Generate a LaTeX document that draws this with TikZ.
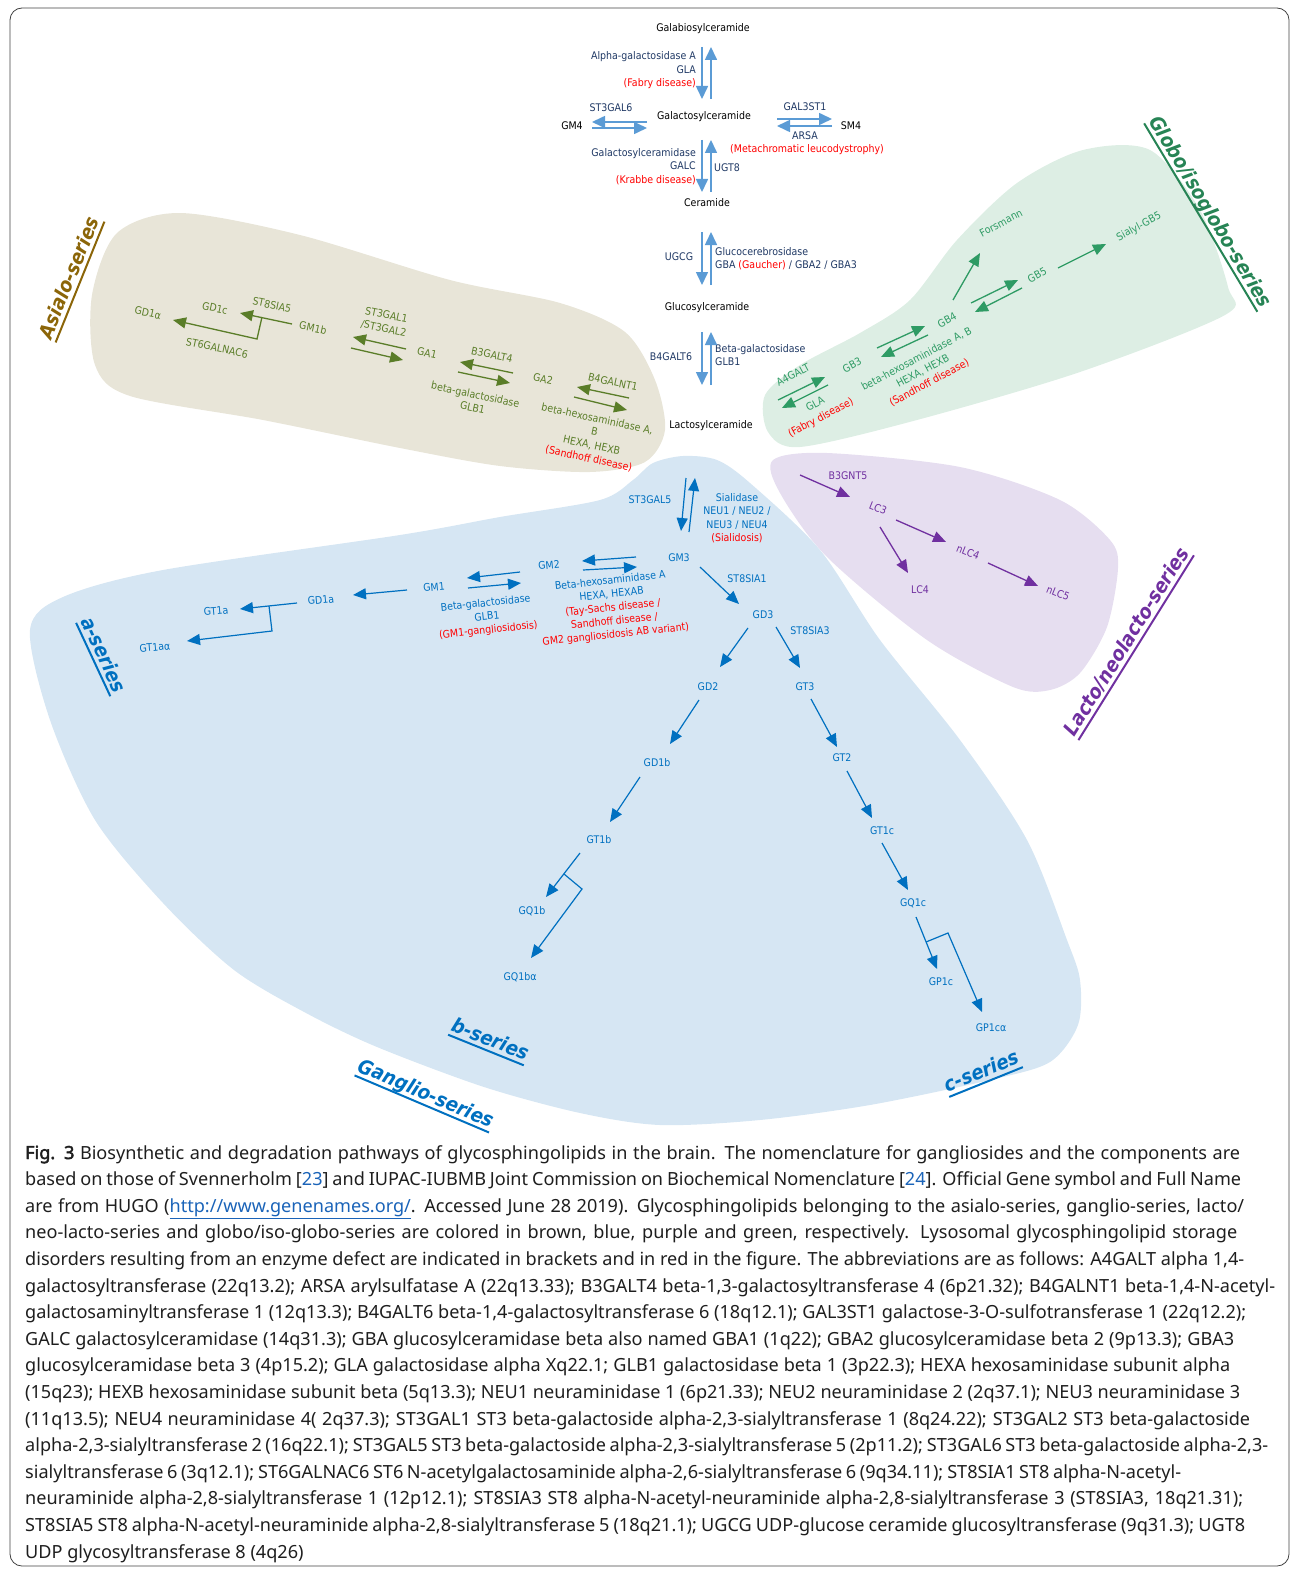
\documentclass[tikz,border=0pt]{standalone}
\usepackage{fontspec}
\setmainfont{DejaVu Sans}[FakeStretch=0.9]
\newfontfamily\capfont{Noto Sans}[BoldFont={Noto Sans}, BoldFeatures={FakeBold=2.5}]
\usetikzlibrary{arrows.meta}
\definecolor{navy}{HTML}{1F3864}
\definecolor{lblue}{HTML}{5B9BD5}
\definecolor{dred}{HTML}{FF0000}
\definecolor{asg}{HTML}{5A7D28}
\definecolor{asbg}{HTML}{E8E5D8}
\definecolor{aslab}{HTML}{8B6508}
\definecolor{glg}{HTML}{2E9B64}
\definecolor{glbg}{HTML}{DDEEE4}
\definecolor{lpur}{HTML}{7030A0}
\definecolor{lcbg}{HTML}{E6DEF0}
\definecolor{gbl}{HTML}{0070C0}
\definecolor{gbg}{HTML}{D6E6F3}
\definecolor{linkb}{HTML}{1A63B8}
\definecolor{captxt}{HTML}{1E1E1E}
\newcommand\capline[2]{\hbox to #1pt{#2}}
\begin{document}
\begin{tikzpicture}[x=1pt,y=-1pt,
  lb/.style={font=\fontsize{10.5}{13.5}\selectfont, inner sep=0pt, align=center},
  tarr/.style={lblue, line width=1.6pt, -{Triangle[length=13pt,width=12pt]}},
  aarr/.style={asg, line width=1.3pt, -{Triangle[length=13pt,width=11pt]}},
  garr/.style={glg, line width=1.3pt, -{Triangle[length=13pt,width=11pt]}},
  parr/.style={lpur, line width=1.3pt, -{Triangle[length=13pt,width=11pt]}},
  barr/.style={gbl, line width=1.2pt, -{Triangle[length=13pt,width=11pt]}},
  series/.style={font=\fontsize{20}{24}\selectfont\bfseries\itshape, inner xsep=0pt, inner ysep=1.5pt, text depth=3pt},
  uline/.style={line width=2pt},
  capl/.style={font=\capfont\fontsize{18.1}{22}\selectfont, text=captxt, anchor=base west, inner sep=0pt}
]
\useasboundingbox (0,0) rectangle (1295,1573);
\draw[line width=0.8pt, black!75, rounded corners=12pt] (10,8) rectangle (1289,1566);

% ---------- blobs ----------
\fill[asbg] plot[smooth cycle] coordinates {(180,213) (300,235) (450,280) (560,303) (625,332) (655,380) (665,430) (645,462) (590,472) (500,466) (400,448) (263,420) (130,396) (95,365) (92,295) (117,233)};
\fill[glbg] plot[smooth cycle] coordinates {(765,395) (800,365) (860,333) (910,300) (957,240) (1017,183) (1083,150) (1150,150) (1200,210) (1228,287) (1225,315) (1080,372) (917,420) (800,447) (768,432)};
\fill[lcbg] plot[smooth cycle] coordinates {(773,460) (827,453) (960,467) (1060,500) (1110,540) (1118,568) (1107,627) (1080,673) (1050,690) (1013,687) (927,640) (827,557) (780,493)};
\fill[gbg] plot[smooth cycle, tension=0.5] coordinates {(30,630) (50,720) (95,820) (163,903) (234,970) (306,1013) (377,1047) (484,1087) (580,1113) (660,1125) (760,1120) (870,1105) (990,1080) (1050,1062) (1078,1025) (1080,980) (1067,940) (1027,840) (960,740) (880,640) (820,550) (750,483) (717,460) (683,456) (653,463) (633,480) (600,500) (500,517) (400,535) (163,570) (63,597)};

% ---------- top pathway ----------
\node[lb] (galab) at (703,29) {Galabiosylceramide};
\node[lb,navy,align=right,anchor=east] (agal) at (696,70.5) {Alpha-galactosidase A\\GLA\\{\color{dred}(Fabry disease)}};
\node[lb] (galcer) at (704,117) {Galactosylceramide};
\node[lb] (gm4) at (572,126) {GM4};
\node[lb,navy] (st3gal6) at (611,108) {ST3GAL6};
\node[lb,navy] (gal3st1) at (805,107) {GAL3ST1};
\node[lb] (sm4) at (851,126) {SM4};
\node[lb,navy] (arsa) at (805,136) {ARSA};
\node[lb,dred] (mld) at (807,150) {(Metachromatic leucodystrophy)};
\node[lb,navy,align=right,anchor=east] (galc) at (696,166.5) {Galactosylceramidase\\GALC\\{\color{dred}(Krabbe disease)}};
\node[lb,navy] (ugt8) at (727,168) {UGT8};
\node[lb] (cer) at (707,203) {Ceramide};
\node[lb,navy] (ugcg) at (679,257) {UGCG};
\node[lb,navy,align=left,anchor=west] (gba) at (715,258.5) {Glucocerebrosidase\\GBA {\color{dred}(Gaucher)} / GBA2 / GBA3};
\node[lb] (glccer) at (707,308) {Glucosylceramide};
\node[lb,navy] (b4galt6) at (671,357) {B4GALT6};
\node[lb,navy,align=left,anchor=west] (glb1) at (715,355) {Beta-galactosidase\\GLB1};
\node[lb] (laccer) at (711,426) {Lactosylceramide};

\coordinate (t1a) at (702,47);  \coordinate (t1b) at (702,99);
\coordinate (t2a) at (711,99);  \coordinate (t2b) at (711,47);
\coordinate (t3a) at (647,122); \coordinate (t3b) at (592,122);
\coordinate (t4a) at (592,128); \coordinate (t4b) at (647,128);
\coordinate (t5a) at (777,119); \coordinate (t5b) at (832,119);
\coordinate (t6a) at (832,126); \coordinate (t6b) at (777,126);
\coordinate (t7a) at (702,140); \coordinate (t7b) at (702,192);
\coordinate (t8a) at (711,192); \coordinate (t8b) at (711,140);
\coordinate (t9a) at (702,232); \coordinate (t9b) at (702,285);
\coordinate (t10a) at (711,285); \coordinate (t10b) at (711,232);
\coordinate (t11a) at (702,332); \coordinate (t11b) at (702,385);
\coordinate (t12a) at (711,385); \coordinate (t12b) at (711,332);
\foreach \i in {1,...,12} {\draw[tarr] (t\i a) -- (t\i b);}

% ---------- asialo ----------
\begin{scope}[every node/.style={lb, asg, rotate=-12}]
\node (gd1al) at (148,313) {GD1α};
\node (gd1c) at (215,308) {GD1c};
\node (st8sia5) at (272,305) {ST8SIA5};
\node (gm1b) at (313,328) {GM1b};
\node (st6galnac6) at (217,348) {ST6GALNAC6};
\node (st3gal1) at (385,322) {ST3GAL1\\/ST3GAL2};
\node (ga1) at (427,353) {GA1};
\node (b3galt4) at (492,355) {B3GALT4};
\node (bgal) at (474,401) {beta-galactosidase\\GLB1};
\node (ga2) at (543,379) {GA2};
\node (b4galnt1) at (613,382) {B4GALNT1};
\node (bhex) at (593,439) {beta-hexosaminidase A,\\B\\HEXA, HEXB\\{\color{dred}(Sandhoff disease)}};
\end{scope}
\coordinate (a1a) at (292,324); \coordinate (a1b) at (240,313);
\coordinate (a2a) at (262,317); \coordinate (a2m) at (257,339); \coordinate (a2b) at (173,320);
\coordinate (a3a) at (406,349); \coordinate (a3b) at (353,337);
\coordinate (a4a) at (351,348); \coordinate (a4b) at (403,360);
\coordinate (a5a) at (513,373); \coordinate (a5b) at (460,362);
\coordinate (a6a) at (458,372); \coordinate (a6b) at (510,383);
\coordinate (a7a) at (629,398); \coordinate (a7b) at (577,387);
\coordinate (a8a) at (574,397); \coordinate (a8b) at (627,410);
\draw[aarr] (a1a) -- (a1b);
\draw[aarr] (a2a) -- (a2m) -- (a2b);
\foreach \i in {3,...,8} {\draw[aarr] (a\i a) -- (a\i b);}

% ---------- globo ----------
\begin{scope}[every node/.style={lb, glg, rotate=28}]
\node (a4galt) at (793,375) {A4GALT};
\node (gla) at (815,404) {GLA};
\node (fabry2) at (821,418) {\color{dred}(Fabry disease)};
\node (gb3) at (852,365) {GB3};
\node (bhex2) at (923,371) {beta-hexosaminidase A, B\\HEXA, HEXB\\{\color{dred}(Sandhoff disease)}};
\node (gb4) at (947,320) {GB4};
\node (forsmann) at (1001,223) {Forsmann};
\node (gb5) at (1037,275) {GB5};
\node (sialyl) at (1139,227) {Sialyl-GB5};
\end{scope}
\coordinate (g1a) at (778,400); \coordinate (g1b) at (825,377);
\coordinate (g2a) at (828,385); \coordinate (g2b) at (782,408);
\coordinate (g3a) at (877,348); \coordinate (g3b) at (925,326);
\coordinate (g4a) at (928,335); \coordinate (g4b) at (881,357);
\coordinate (g5a) at (953,300); \coordinate (g5b) at (980,253);
\coordinate (g6a) at (971,303); \coordinate (g6b) at (1018,280);
\coordinate (g7a) at (1022,288); \coordinate (g7b) at (975,312);
\coordinate (g8a) at (1058,268); \coordinate (g8b) at (1106,244);
\foreach \i in {1,...,8} {\draw[garr] (g\i a) -- (g\i b);}

% ---------- lacto ----------
\node[lb,lpur] (b3gnt5) at (848,476) {B3GNT5};
\node[lb,lpur,rotate=-22] (lc3) at (878,508) {LC3};
\node[lb,lpur] (lc4) at (920,590) {LC4};
\node[lb,lpur,rotate=-22] (nlc4) at (968,552) {nLC4};
\node[lb,lpur,rotate=-22] (nlc5) at (1058,593) {nLC5};
\coordinate (l1a) at (800,475); \coordinate (l1b) at (850,497);
\coordinate (l2a) at (896,520); \coordinate (l2b) at (946,542);
\coordinate (l3a) at (880,527); \coordinate (l3b) at (908,573);
\coordinate (l4a) at (988,563); \coordinate (l4b) at (1038,586);
\foreach \i in {1,...,4} {\draw[parr] (l\i a) -- (l\i b);}

% ---------- ganglio ----------
\begin{scope}[every node/.style={lb, gbl}]
\node (st3gal5) at (650,500) {ST3GAL5};
\node (sial) at (737,518) {Sialidase\\NEU1 / NEU2 /\\NEU3 / NEU4\\{\color{dred}(Sialidosis)}};
\node (gm3) at (679,558) {GM3};
\node[rotate=5] (gm2) at (549,565) {GM2};
\node[rotate=5] (gm1) at (434,587) {GM1};
\node[rotate=6] (bhexa) at (613,608) {Beta-hexosaminidase A\\HEXA, HEXAB\\{\color{dred}(Tay-Sachs disease /}\\{\color{dred}Sandhoff disease /}\\{\color{dred}GM2 gangliosidosis AB variant)}};
\node[rotate=6] (bgal2) at (487,617) {Beta-galactosidase\\GLB1\\{\color{dred}(GM1-gangliosidosis)}};
\node (st8sia1) at (747,579) {ST8SIA1};
\node (gd3) at (763,615) {GD3};
\node (st8sia3) at (810,631) {ST8SIA3};
\node (gd2) at (708,687) {GD2};
\node (gt3) at (805,687) {GT3};
\node (gd1b) at (657,763) {GD1b};
\node (gt2) at (842,758) {GT2};
\node (gt1b) at (599,840) {GT1b};
\node (gt1c) at (882,831) {GT1c};
\node (gq1b) at (532,911) {GQ1b};
\node (gq1c) at (913,903) {GQ1c};
\node (gq1ba) at (520,977) {GQ1bα};
\node (gp1c) at (941,982) {GP1c};
\node (gp1ca) at (991,1028) {GP1cα};
\node[rotate=5] (gd1a) at (321,600) {GD1a};
\node[rotate=5] (gt1a) at (216,611) {GT1a};
\node[rotate=5] (gt1aa) at (155,647) {GT1aα};
\end{scope}
\coordinate (b1a) at (686,478); \coordinate (b1b) at (681,531);
\coordinate (b2a) at (689,532); \coordinate (b2b) at (695,478);
\coordinate (b3a) at (636,557); \coordinate (b3b) at (582,561);
\coordinate (b4a) at (583,570); \coordinate (b4b) at (637,567);
\coordinate (b5a) at (520,572); \coordinate (b5b) at (467,578);
\coordinate (b6a) at (468,588); \coordinate (b6b) at (521,583);
\coordinate (b7a) at (407,590); \coordinate (b7b) at (353,595);
\coordinate (b8a) at (297,603); \coordinate (b8b) at (240,609);
\coordinate (b9a) at (700,567); \coordinate (b9b) at (739,604);
\coordinate (b10a) at (748,628); \coordinate (b10b) at (720,667);
\coordinate (b11a) at (776,627); \coordinate (b11b) at (800,668);
\coordinate (b12a) at (699,700); \coordinate (b12b) at (670,744);
\coordinate (b13a) at (640,777); \coordinate (b13b) at (610,822);
\coordinate (b14a) at (580,853); \coordinate (b14b) at (546,897);
\coordinate (b15a) at (811,699); \coordinate (b15b) at (837,747);
\coordinate (b16a) at (847,771); \coordinate (b16b) at (872,818);
\coordinate (b17a) at (882,843); \coordinate (b17b) at (908,890);
\coordinate (b18a) at (916,917); \coordinate (b18b) at (937,969);
\foreach \i in {1,...,18} {\draw[barr] (b\i a) -- (b\i b);}
\coordinate (br1a) at (269,606); \coordinate (br1m) at (272,631); \coordinate (br1b) at (187,641);
\coordinate (br2a) at (564,874); \coordinate (br2m) at (582,889); \coordinate (br2b) at (531,958);
\coordinate (br3a) at (926,942); \coordinate (br3m) at (948,933); \coordinate (br3b) at (982,1012);
\foreach \i in {1,2,3} {\draw[barr] (br\i a) -- (br\i m) -- (br\i b);}

% ---------- series labels ----------
\node[series, aslab, rotate=68] (asialo) at (70,278) {Asialo-series};
\draw[uline, aslab] (asialo.south west) -- (asialo.south east);
\node[series, glg!85!black, rotate=-59] (globo) at (1210,212) {Globo/isoglobo-series};
\draw[uline, glg!85!black] (globo.south west) -- (globo.south east);
\node[series, lpur, rotate=58] (lacto) at (1127,642) {Lacto/neolacto-series};
\draw[uline, lpur] (lacto.south west) -- (lacto.south east);
\node[series, gbl, rotate=-65] (aser) at (103,655) {a-series};
\draw[uline, gbl] (aser.south west) -- (aser.south east);
\node[series, gbl, rotate=-22] (bser) at (490,1040) {b-series};
\draw[uline, gbl] (bser.south west) -- (bser.south east);
\node[series, gbl, rotate=-23] (gser) at (426,1094) {Ganglio-series};
\draw[uline, gbl] (gser.south west) -- (gser.south east);
\node[series, gbl, rotate=22] (cser) at (982,1072) {c-series};
\draw[uline, gbl] (cser.south west) -- (cser.south east);

% ---------- caption ----------
\node[capl] (c1) at (25,1159) {\capline{1215}{\textbf{Fig. 3} Biosynthetic and degradation pathways of glycosphingolipids in the brain. The nomenclature for gangliosides and the components are}};
\node[capl] (c2) at (25,1185.6) {\capline{1216}{based on those of Svennerholm [{\color{linkb}23}] and IUPAC-IUBMB Joint Commission on Biochemical Nomenclature [{\color{linkb}24}]. Official Gene symbol and Full Name}};
\node[capl] (c3) at (25,1212.2) {\capline{1219}{are from HUGO ({\color{linkb}\underline{http://www.genenames.org/}}. Accessed June 28 2019). Glycosphingolipids belonging to the asialo-series, ganglio-series, lacto/}};
\node[capl] (c4) at (25,1238.8) {\capline{1212}{neo-lacto-series and globo/iso-globo-series are colored in brown, blue, purple and green, respectively. Lysosomal glycosphingolipid storage}};
\node[capl] (c5) at (25,1265.4) {\capline{1219}{disorders resulting from an enzyme defect are indicated in brackets and in red in the figure. The abbreviations are as follows: A4GALT alpha 1,4-}};
\node[capl] (c6) at (25,1292) {\capline{1250}{galactosyltransferase (22q13.2); ARSA arylsulfatase A (22q13.33); B3GALT4 beta-1,3-galactosyltransferase 4 (6p21.32); B4GALNT1 beta-1,4-N-acetyl-}};
\node[capl] (c7) at (25,1318.6) {\capline{1221}{galactosaminyltransferase 1 (12q13.3); B4GALT6 beta-1,4-galactosyltransferase 6 (18q12.1); GAL3ST1 galactose-3-O-sulfotransferase 1 (22q12.2);}};
\node[capl] (c8) at (25,1345.2) {\capline{1209}{GALC galactosylceramidase (14q31.3); GBA glucosylceramidase beta also named GBA1 (1q22); GBA2 glucosylceramidase beta 2 (9p13.3); GBA3}};
\node[capl] (c9) at (25,1371.8) {\capline{1205}{glucosylceramidase beta 3 (4p15.2); GLA galactosidase alpha Xq22.1; GLB1 galactosidase beta 1 (3p22.3); HEXA hexosaminidase subunit alpha}};
\node[capl] (c10) at (25,1398.4) {\capline{1215}{(15q23); HEXB hexosaminidase subunit beta (5q13.3); NEU1 neuraminidase 1 (6p21.33); NEU2 neuraminidase 2 (2q37.1); NEU3 neuraminidase 3}};
\node[capl] (c11) at (25,1425) {\capline{1225}{(11q13.5); NEU4 neuraminidase 4( 2q37.3); ST3GAL1 ST3 beta-galactoside alpha-2,3-sialyltransferase 1 (8q24.22); ST3GAL2 ST3 beta-galactoside}};
\node[capl] (c12) at (25,1451.6) {\capline{1243}{alpha-2,3-sialyltransferase 2 (16q22.1); ST3GAL5 ST3 beta-galactoside alpha-2,3-sialyltransferase 5 (2p11.2); ST3GAL6 ST3 beta-galactoside alpha-2,3-}};
\node[capl] (c13) at (25,1478.2) {\capline{1156}{sialyltransferase 6 (3q12.1); ST6GALNAC6 ST6 N-acetylgalactosaminide alpha-2,6-sialyltransferase 6 (9q34.11); ST8SIA1 ST8 alpha-N-acetyl-}};
\node[capl] (c14) at (25,1504.8) {\capline{1218}{neuraminide alpha-2,8-sialyltransferase 1 (12p12.1); ST8SIA3 ST8 alpha-N-acetyl-neuraminide alpha-2,8-sialyltransferase 3 (ST8SIA3, 18q21.31);}};
\node[capl] (c15) at (25,1531.4) {\capline{1220}{ST8SIA5 ST8 alpha-N-acetyl-neuraminide alpha-2,8-sialyltransferase 5 (18q21.1); UGCG UDP-glucose ceramide glucosyltransferase (9q31.3); UGT8}};
\node[capl] (c16) at (25,1558) {UDP glycosyltransferase 8 (4q26)};
\end{tikzpicture}
\end{document}
